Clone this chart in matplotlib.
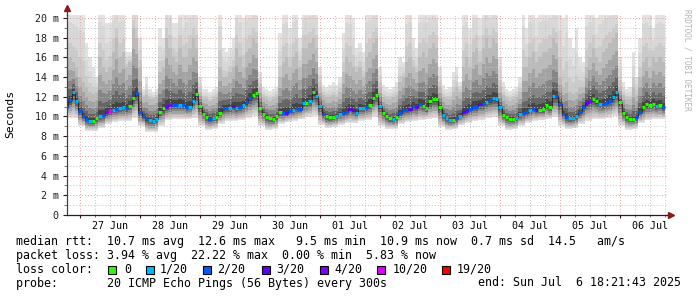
import numpy as np
import matplotlib
matplotlib.use("Agg")
import matplotlib.pyplot as plt
from matplotlib.patches import Rectangle

# ---------------- data ----------------
# median RTT (ms), one sample every 80 minutes starting 26 Jun 18:40
median_ms = [
    10.96, 11.7, 12.5, 11.6, 10.6, 10.0, 9.7, 9.55, 9.55, 9.8, 10.05, 10.2, 10.45, 10.6, 10.7, 10.75, 10.85, 10.95,
    10.85, 11.1, 11.9, 12.4, 10.45, 10.05, 9.8, 9.6, 9.55, 9.75, 10.5, 10.85, 11.0, 11.15, 11.2, 11.2, 11.2, 11.2,
    10.96, 11.0, 11.6, 12.3, 11.1, 10.3, 9.95, 9.75, 9.85, 9.95, 10.4, 10.85, 10.85, 10.9, 11.1, 10.85, 11.0, 11.2,
    11.45, 11.9, 12.2, 12.4, 10.9, 10.3, 9.95, 9.8, 9.75, 10.0, 10.45, 10.4, 10.4, 10.55, 10.7, 10.85, 10.8, 11.35,
    11.35, 11.6, 12.45, 12.1, 11.1, 10.3, 10.05, 9.9, 9.95, 10.1, 10.25, 10.4, 10.5, 10.75, 10.7, 10.4, 10.85, 10.9,
    11.0, 11.2, 11.9, 12.2, 11.1, 10.35, 10.05, 9.8, 9.75, 9.9, 10.4, 10.7, 10.7, 10.75, 11.05, 10.95, 11.3, 11.1,
    10.85, 11.55, 11.8, 11.8, 11.0, 10.15, 9.85, 9.65, 9.65, 9.8, 10.1, 10.45, 10.55, 10.8, 11.0, 11.0, 11.3, 11.3,
    11.5, 11.7, 11.9, 11.8, 11.0, 10.2, 9.9, 9.75, 9.7, 9.85, 10.25, 10.35, 10.45, 10.7, 10.8, 10.7, 10.7, 10.75,
    11.2, 10.95, 12.05, 12.05, 11.3, 10.3, 9.95, 9.8, 9.8, 10.05, 10.45, 11.0, 11.35, 11.6, 11.75, 11.55, 11.3, 11.25,
    11.35, 11.6, 12.0, 12.45, 11.5, 10.4, 9.95, 9.75, 9.7, 9.95, 10.5, 11.0, 11.25, 11.2, 11.3, 11.1, 11.2, 10.95,
]
# lost pings out of 20 for each median sample
loss_of_20 = [
    2, 2, 1, 1, 2, 2, 2, 1, 0, 0, 1, 2, 4, 10, 1, 2, 1, 1, 2, 0, 0, 2, 2, 2, 2, 1, 1, 1, 0, 0, 3, 4, 2, 2, 1, 2,
    2, 1, 1, 0, 0, 0, 0, 2, 1, 0, 0, 2, 2, 1, 3, 1, 2, 1, 2, 2, 0, 0, 0, 0, 0, 0, 0, 0, 0, 2, 3, 2, 1, 2, 2, 1,
    0, 1, 0, 1, 1, 2, 0, 0, 0, 1, 1, 2, 2, 3, 3, 1, 1, 1, 2, 0, 0, 0, 1, 0, 0, 0, 1, 0, 2, 2, 2, 3, 2, 3, 2, 0,
    0, 0, 0, 0, 0, 1, 1, 1, 0, 2, 1, 3, 3, 2, 2, 2, 3, 2, 1, 2, 1, 1, 1, 0, 0, 0, 0, 1, 1, 2, 2, 1, 2, 3, 0, 0,
    0, 0, 1, 2, 2, 2, 2, 1, 1, 1, 2, 2, 3, 4, 0, 0, 1, 2, 2, 2, 1, 1, 0, 0, 0, 0, 0, 2, 2, 0, 0, 0, 0, 1, 0, 2,
]
# slowest ping (ms) per sample; values above 20 are clipped by the axis
smoke_max = [
    22, 22, 22, 22, 22, 22, 17.5, 16, 15, 14, 22, 22, 19.5, 19.5, 22, 22, 22, 22,
    16.5, 16.5, 22, 22, 18, 12.8, 14, 12.8, 12.5, 12.8, 19, 18, 22, 22, 19.5, 19.5, 22, 21,
    22, 22, 22, 22, 14, 12.8, 12.8, 12.5, 12.8, 13, 22, 17, 16.5, 17, 18, 22, 22, 20,
    22, 22, 22, 22, 14.5, 13, 12.8, 12.6, 12.8, 13, 18.5, 22, 22, 19, 22, 22, 18, 22,
    22, 22, 22, 22, 15, 13.2, 13, 13.2, 13.5, 13.2, 14, 18.5, 22, 22, 20, 17, 17.5, 16.5,
    22, 22, 22, 22, 15, 13.2, 13, 12.8, 13, 13.5, 16, 15.5, 22, 22, 18, 17, 22, 22,
    22, 22, 22, 22, 15, 13.2, 12.8, 13, 14.5, 15, 13.5, 22, 22, 19, 22, 22, 20, 22,
    22, 22, 22, 22, 16, 13.5, 12.8, 12.6, 12.8, 13, 14, 22, 19, 22, 22, 20, 22, 22,
    22, 22, 22, 22, 22, 20, 22, 18, 17, 19, 16, 15.5, 22, 22, 22, 20, 22, 22,
    22, 22, 22, 22, 16, 13.5, 12.8, 13, 16.5, 14, 18, 22, 22, 22, 19, 22, 22, 22,
]
# upper body of the ping distribution (ms) per sample
smoke_hi = [
    17, 16, 15.5, 15, 14, 13.5, 13, 12.5, 12.3, 12.5, 16, 15, 14.5, 15, 16.5, 18, 16, 16.5,
    15, 15.5, 19, 18, 15, 12, 12.2, 11.8, 11.8, 12, 14.5, 15, 18, 17, 16, 15.5, 17, 16,
    16, 17, 18, 17, 12.5, 11.8, 11.8, 11.6, 11.8, 12, 15, 14, 14, 14.5, 15, 17, 16, 15,
    16.5, 17, 18, 17.5, 13, 12, 11.8, 11.6, 11.8, 12, 14, 15.5, 16, 15, 16, 16.5, 15, 17,
    17, 17.5, 18, 17, 13, 12.2, 12, 12, 12.2, 12, 12.5, 14.5, 16, 15.5, 15, 14.5, 15, 14,
    16, 16.5, 17.5, 18, 13, 12, 11.8, 11.8, 12, 12.2, 13.5, 14, 15.5, 16, 15, 14.5, 16, 16.5,
    16, 17, 17.5, 17, 13, 12, 11.8, 11.8, 12.5, 13, 12.5, 15, 16, 15, 16.5, 17, 15.5, 17,
    18, 17, 18, 17.5, 13, 12.2, 11.8, 11.6, 11.8, 12, 12.5, 15, 15, 16, 16.5, 15.5, 16, 16.5,
    16.5, 17, 18, 17.5, 14, 13, 13.5, 12.5, 12.3, 12.5, 13, 13, 15, 16, 17, 16, 15.5, 16.5,
    17, 17.5, 18, 18.5, 13, 12.2, 11.8, 11.8, 13, 12.2, 14, 15.5, 16, 15, 16, 15.5, 16, 15.5,
]
# fastest ping (ms), one value per 160 minutes
smoke_min = [
    9.8, 9.8, 9.0, 8.5, 8.5, 8.8, 9.2, 9.4, 9.5, 9.5, 9.8, 9.0, 8.4, 8.4, 9.0, 9.6, 9.7, 9.7,
    9.7, 9.8, 9.0, 8.6, 8.7, 9.2, 9.5, 9.5, 9.6, 9.8, 10.0, 9.0, 8.6, 8.7, 9.2, 9.4, 9.5, 9.7,
    9.9, 10.0, 9.1, 8.8, 8.9, 9.1, 9.3, 9.3, 9.5, 9.6, 9.9, 9.0, 8.7, 8.7, 9.2, 9.4, 9.5, 9.6,
    9.7, 9.8, 8.9, 8.6, 8.7, 9.1, 9.3, 9.5, 9.6, 9.8, 9.9, 9.0, 8.6, 8.7, 9.0, 9.3, 9.5, 9.6,
    9.7, 9.9, 9.0, 8.7, 8.8, 9.2, 9.5, 9.7, 9.7, 9.8, 10.0, 9.0, 8.6, 8.7, 9.3, 9.6, 9.7, 9.7,
]
day_labels = ["27 Jun", "28 Jun", "29 Jun", "30 Jun", "01 Jul", "02 Jul", "03 Jul", "04 Jul", "05 Jul", "06 Jul"]
y_ticks = [0, 2, 4, 6, 8, 10, 12, 14, 16, 18, 20]
y_tick_labels = ["0", "2 m", "4 m", "6 m", "8 m", "10 m", "12 m", "14 m", "16 m", "18 m", "20 m"]
loss_levels = [0, 1, 2, 3, 4, 10, 19]
loss_labels = ["0", "1/20", "2/20", "3/20", "4/20", "10/20", "19/20"]
loss_colors = ["#26ff00", "#00b8ff", "#0059ff", "#5e00ff", "#7e00ff", "#dd00ff", "#ff0000"]

line_median = "median rtt:  10.7 ms avg  12.6 ms max   9.5 ms min  10.9 ms now  0.7 ms sd  14.5   am/s"
line_loss = "packet loss: 3.94 % avg  22.22 % max  0.00 % min  5.83 % now"
line_probe = "probe:       20 ICMP Echo Pings (56 Bytes) every 300s"
line_end = "end: Sun Jul  6 18:21:43 2025"

# ---------------- layout ----------------
W, H = 697, 297
MONO = "DejaVu Sans Mono"
T0 = -16.0 / 3.0          # hours relative to 27 Jun 00:00 (26 Jun 18:40)
STEP = 4.0 / 3.0          # 80 minutes

fig = plt.figure(figsize=(W / 100, H / 100), dpi=100)
fig.patch.set_facecolor("white")
ax = fig.add_axes([67 / W, (H - 215) / H, 600 / W, 200 / H])
ax.set_facecolor("white")

med = np.array(median_ms)
n = len(med)
t = T0 + STEP * np.arange(n)
edges = T0 - STEP / 2 + STEP * np.arange(n + 1)

smax = np.array(smoke_max, float)
shi = np.array(smoke_hi, float)
smin = np.repeat(np.array(smoke_min, float), 2)[:n]


def upper(f):
    return np.where(f <= 1, med + f * (shi - med), shi + (f - 1) * (smax - shi))


def lower(g):
    return med - g * (med - smin)


bands = [
    (2.0, 1.0, "#e2e2e2"),
    (1.6, 0.92, "#d8d8d8"),
    (1.25, 0.82, "#cbcbcb"),
    (1.0, 0.72, "#bbbbbb"),
    (0.7, 0.6, "#a3a3a3"),
    (0.45, 0.45, "#868686"),
    (0.25, 0.3, "#666666"),
    (0.1, 0.15, "#444444"),
]
for f, g, c in bands:
    up = upper(f)
    lo = lower(g)
    ax.fill_between(edges, np.append(lo, lo[-1]), np.append(up, up[-1]),
                    step="post", color=c, lw=0, zorder=1)

# median line coloured by loss
ax.step(t, med, where="mid", color="#202020", lw=0.6, zorder=3)
cmap = dict(zip(loss_levels, loss_colors))
seg_colors = [cmap[v] for v in loss_of_20]
ax.hlines(med, t - STEP / 2, t + STEP / 2, colors=seg_colors, lw=2.2, zorder=4)

# axes limits / grid
ax.set_xlim(-5.2, 234.8)
ax.set_ylim(0, 200 / 9.85)

ax.set_yticks(y_ticks)
ax.set_yticklabels(y_tick_labels, fontfamily=MONO, fontsize=7.2)
ax.set_yticks(np.arange(1, 20, 2), minor=True)
ax.set_xticks(np.arange(0, 240, 24))
ax.set_xticklabels([])
ax.set_xticks(np.arange(-0, 240, 6), minor=True)
ax.tick_params(axis="y", which="major", length=3, width=0.8, pad=3, colors="#202020")
ax.tick_params(axis="y", which="minor", length=2, width=0.6, colors="#606060")
ax.tick_params(axis="x", which="major", length=2, width=0.8, colors="#202020")
ax.tick_params(axis="x", which="minor", length=1.5, width=0.6, colors="#606060")
ax.grid(which="major", color="#e6a0a0", linestyle=(0, (1, 2)), lw=0.7)
ax.grid(which="minor", color="#c4c4c4", linestyle=(0, (1, 2)), lw=0.7)

sec = ax.secondary_xaxis("bottom")
sec.set_xticks(12 + 24 * np.arange(len(day_labels)))
sec.set_xticklabels(day_labels, fontfamily=MONO, fontsize=7.2)
sec.tick_params(length=0, pad=4)
sec.spines["bottom"].set_visible(False)

for s in ["top", "right"]:
    ax.spines[s].set_visible(False)
ax.spines["left"].set_color("#404040")
ax.spines["bottom"].set_color("#202020")
ax.spines["left"].set_linewidth(0.9)
ax.spines["bottom"].set_linewidth(0.9)

# axis arrows
ax.plot([0, 0], [1, 1.03], transform=ax.transAxes, color="#404040", lw=0.9, clip_on=False)
ax.plot([0], [1.035], marker="^", markersize=4, color="#8b1a1a", transform=ax.transAxes, clip_on=False)
ax.plot([1, 1.006], [0, 0], transform=ax.transAxes, color="#202020", lw=0.9, clip_on=False)
ax.plot([1.007], [0], marker=">", markersize=4, color="#8b1a1a", transform=ax.transAxes, clip_on=False)

# y label
fig.text(10 / W, 1 - 114 / H, "Seconds", rotation=90, ha="center", va="center",
         fontfamily=MONO, fontsize=8.2, color="black")

# watermark
fig.text(687 / W, 1 - 60 / H, "RRDTOOL / TOBI OETIKER", rotation=270, ha="center", va="center",
         fontfamily=MONO, fontsize=5.6, color="#b4b4b4")


# legend text
def fy(y):
    return 1 - y / H


fig.text(16 / W, fy(241.5), line_median, fontfamily=MONO, fontsize=8.4, va="center", ha="left")
fig.text(16 / W, fy(255.3), line_loss, fontfamily=MONO, fontsize=8.4, va="center", ha="left")
fig.text(16 / W, fy(269.2), "loss color:", fontfamily=MONO, fontsize=8.4, va="center", ha="left")
fig.text(16 / W, fy(283.0), line_probe, fontfamily=MONO, fontsize=8.4, va="center", ha="left")
fig.text(681 / W, fy(283.0), line_end, fontfamily=MONO, fontsize=8.4, va="center", ha="right")

swatch_x = [108, 146, 203, 262, 320, 377, 442]
label_x = [124, 160, 217, 276, 334, 393, 457]
for sx, lx, c, lab in zip(swatch_x, label_x, loss_colors, loss_labels):
    fig.add_artist(Rectangle((sx / W, fy(273.5)), 8 / W, 8 / H, transform=fig.transFigure,
                             facecolor=c, edgecolor="black", lw=0.8))
    fig.text(lx / W, fy(269.2), lab, fontfamily=MONO, fontsize=8.4, va="center", ha="left")

fig.savefig("out.png", dpi=100, facecolor="white")
